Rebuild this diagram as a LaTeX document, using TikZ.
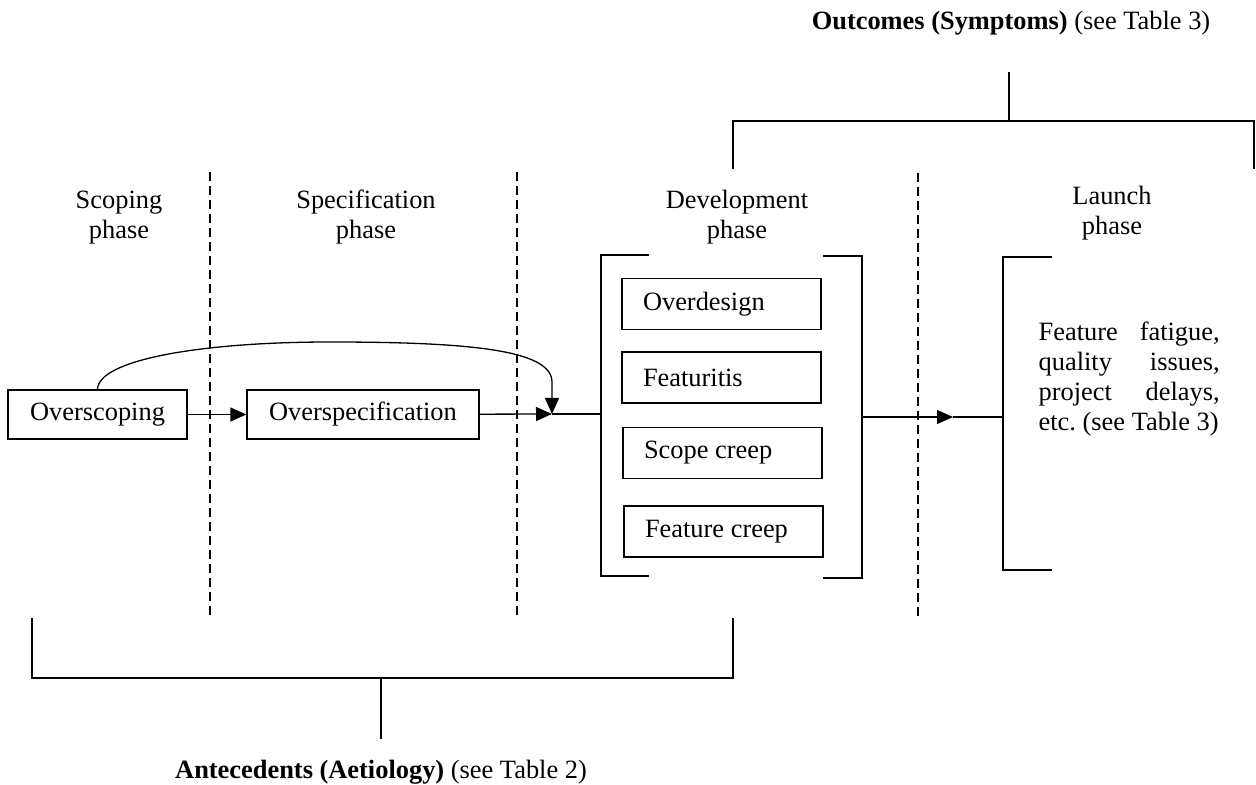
\documentclass[tikz,border=0pt]{standalone}
\usepackage{fontspec}
\setmainfont{Liberation Serif}
\usetikzlibrary{arrows.meta,calc}
\begin{document}
\begin{tikzpicture}[x=0.5pt,y=-0.5pt,line width=0.65pt,
  font=\fontsize{13.2}{15}\selectfont,
  box/.style={draw,inner sep=0pt,minimum height=24.5pt},
  devbox/.style={draw,inner ysep=0pt,inner xsep=10.5pt,minimum height=25.5pt},
  arr/.style={-{Triangle[length=8pt,width=7pt]}},
  phaselbl/.style={align=center,inner sep=0pt,anchor=base},
  sep/.style={dash pattern=on 4.5pt off 2.5pt,line width=0.55pt}]
\useasboundingbox (0,0) rectangle (1256,785);

% phase separators
\draw[sep] (210,172) -- (210,618);
\draw[sep] (517,172) -- (517,618);
\draw[sep] (918,173) -- (918,620);

% phase labels (anchor = baseline of last line)
\node[phaselbl] (lscope) at (119,239) {Scoping\\phase};
\node[phaselbl] (lspec) at (366,239) {Specification\\phase};
\node[phaselbl] (ldev) at (737,239) {Development\\phase};
\node[phaselbl] (llaunch) at (1112,235) {Launch\\phase};

% antecedent boxes
\node[box,minimum width=89.5pt] (os) at (97.5,414.5) {Overscoping};
\node[box,minimum width=116pt] (osp) at (363,414.5) {Overspecification};
\coordinate (J) at (552,414);
\coordinate (JB) at (552,382);

% development bracket
\coordinate (dl) at (601,414);
\draw (649,255) -- (601,255) -- (601,576) -- (649,576);
\draw (823,256) -- (862,256) -- (862,578) -- (823,578);
\node[devbox] (od) at (721.5,304) {\makebox[78.5pt][l]{Overdesign}};
\node[devbox] (ft) at (721.5,377.5) {\makebox[78.5pt][l]{Featuritis}};
\node[devbox] (sc) at (722.5,453) {\makebox[78.5pt][l]{Scope creep}};
\node[devbox] (fc) at (723.5,531.5) {\makebox[78.5pt][l]{Feature creep}};

% connectors
\draw[arr] (os) -- (osp);
\draw[arr] (osp) -- (J);
\draw (J) -- (dl);
\draw[arr] (os.north) .. controls (98,360) and (200,342) .. (330,342)
  .. controls (470,342) and (552,350) .. (JB) -- (J);

% launch bracket
\coordinate (dr) at (862,417);
\coordinate (ll) at (1003,417);
\coordinate (ah) at (953,417);
\draw[arr] (dr) -- (ah);
\draw (ah) -- (ll);
\draw (1052,257) -- (1003,257) -- (1003,570) -- (1052,570);
\node[anchor=base west,inner sep=0pt,align=left] (lt) at (1038,430)
  {\makebox[90.5pt]{Feature\hfill fatigue,}\\
   \makebox[90.5pt]{quality\hfill issues,}\\
   \makebox[90.5pt]{project\hfill delays,}\\
   \makebox[90.5pt][l]{etc.\ (see Table 3)}};

% outcomes bracket
\node[anchor=base,inner sep=0pt] (out) at (1011,30) {\textbf{Outcomes (Symptoms)} (see Table 3)};
\draw (1009,72) -- (1009,121);
\draw (733,169) -- (733,121) -- (1254,121) -- (1254,169);

% antecedents bracket
\draw (32,618) -- (32,678) -- (733,678) -- (733,618);
\draw (381,678) -- (381,739);
\node[anchor=base,inner sep=0pt] (ant) at (381,778) {\textbf{Antecedents (Aetiology)} (see Table 2)};
\end{tikzpicture}
\end{document}
